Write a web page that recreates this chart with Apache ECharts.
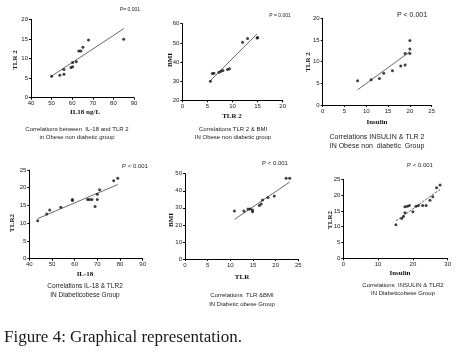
<!DOCTYPE html>
<html>
<head>
<meta charset="utf-8">
<script src="https://cdn.jsdelivr.net/npm/echarts@6/dist/echarts.min.js"></script>
<style>
body{margin:0;background:#fff;}
#chart{width:460px;height:356px;}
</style>
</head>
<body>
<div id="chart"></div>
<script>
// 1: IL-18 vs TLR2, obese non diabetic
var il18Ob = [50, 54, 56, 56, 59.4, 60.2, 60.2, 62, 63.2, 64.2, 65.2, 67.9, 85];
var tlr2Ob1 = [5.5, 5.7, 6.0, 7.2, 7.7, 7.9, 9.0, 9.2, 11.9, 11.9, 12.9, 14.7, 14.9];
var fit1 = [[50, 5.5], [85, 17.6]];
// 2: TLR2 vs BMI, obese non diabetic
var tlr2Ob2 = [5.6, 6.0, 6.3, 7.3, 7.7, 8.1, 9.0, 9.4, 12.0, 13.0, 14.9, 15];
var bmiOb = [30, 34, 34.1, 34.6, 35.2, 35.6, 36.1, 36.5, 50.3, 52.3, 52.5, 52.8];
var fit2 = [[5.5, 30], [14.9, 54.7]];
// 3: insulin vs TLR2, obese non diabetic
var insOb = [8.0, 11.1, 13.0, 14.0, 16.0, 17.9, 18.9, 18.9, 20, 20, 20];
var tlr2Ob3 = [5.6, 5.8, 6.1, 7.3, 7.9, 9.0, 9.2, 11.9, 11.9, 12.9, 14.9];
var fit3 = [[8, 3.5], [20, 12.3]];
// 4: IL-18 vs TLR2, diabetic obese
var il18Db = [43.7, 47.7, 49, 53.9, 59, 59, 65.7, 66.5, 67.6, 69, 70, 70, 71, 77.2, 79];
var tlr2Db4 = [10.7, 12.6, 13.7, 14.5, 16.4, 16.7, 16.7, 16.7, 16.7, 14.7, 16.7, 18.2, 19.4, 22, 22.7];
var fit4 = [[43.7, 11.3], [79, 20.9]];
// 5: TLR vs BMI, diabetic obese
var tlrDb = [10.9, 13, 13.9, 14.4, 14.9, 14.9, 16.4, 16.8, 17.1, 18.3, 19.7, 22.3, 23.1];
var bmiDb = [28.1, 28.1, 29.3, 29.3, 28.7, 27.7, 31.3, 32.2, 34.6, 36.1, 36.9, 47.3, 47.3];
var fit5 = [[10.9, 23.2], [23.1, 45.1]];
// 6: insulin vs TLR2, diabetic obese
var insDb = [15.1, 16.8, 17.3, 17.7, 17.7, 18.4, 19, 20, 20.9, 21.6, 22.8, 23.8, 24.9, 25.7, 26.8, 27.8];
var tlr2Db6 = [10.6, 12.6, 13.2, 14.4, 16.3, 16.5, 16.7, 14.7, 16.5, 16.7, 16.7, 16.7, 18.4, 19.5, 22.3, 23.2];
var fit6 = [[15.1, 11.8], [27.8, 21.8]];

var panels = [
  {x: il18Ob, y: tlr2Ob1, fit: fit1, xr: [40, 90, 10], yr: [0, 20, 5], grid: [31, 19.3, 103, 78.4]},
  {x: tlr2Ob2, y: bmiOb, fit: fit2, xr: [0, 20, 5], yr: [20, 60, 10], grid: [182.3, 23.7, 100.4, 76.6]},
  {x: insOb, y: tlr2Ob3, fit: fit3, xr: [0, 25, 5], yr: [0, 20, 5], grid: [322.7, 18.3, 109, 86.7]},
  {x: il18Db, y: tlr2Db4, fit: fit4, xr: [40, 90, 10], yr: [0, 25, 5], grid: [29.3, 170, 113.4, 88.7]},
  {x: tlrDb, y: bmiDb, fit: fit5, xr: [0, 25, 5], yr: [0, 50, 10], grid: [185, 173.7, 113.3, 85.3]},
  {x: insDb, y: tlr2Db6, fit: fit6, xr: [0, 30, 10], yr: [0, 25, 5], grid: [343.3, 179.3, 104.4, 79]}
];

// texts: [text, x, y, size]
var pTexts = [
  ['P= 0.001', 130, 10, 5], ['P = 0.001', 280, 15.7, 5], ['P < 0.001', 412, 15, 7],
  ['P < 0.001', 135, 166.7, 6], ['P < 0.001', 275, 163.3, 6], ['P < 0.001', 420, 165, 6]
];
var xNames = [['IL18 ng/L', 85, 112], ['TLR 2', 232, 116], ['Insulin', 377, 121.7],
  ['IL-18', 85, 274], ['TLR', 242, 276.7], ['Insulin', 400, 273.3]];
var yNames = [['TLR 2', 15, 60], ['BMI', 170, 60], ['TLR 2', 308, 62],
  ['TLR2', 11.7, 223], ['BMI', 170.7, 220], ['TLR2', 330, 220]];
var captions = [
  ['Correlations between  IL-18 and TLR 2', 'in Obese non diabetic group', 77, 129, 137, 6],
  ['Correlations TLR 2 & BMI', 'IN Obese non diabetic group', 233, 129, 137, 6],
  ['Correlations INSULIN & TLR 2', 'IN Obese non  diabetic  Group', 377, 136.7, 145.7, 7],
  ['Correlations IL-18 & TLR2', 'IN Diabeticobese Group', 85, 286.7, 295, 6.5],
  ['Correlations  TLR &BMI', 'IN Diabetic obese Group', 242, 295.7, 304, 6],
  ['Correlations  INSULIN & TLR2', 'IN Diabeticobese Group', 403, 285, 293.3, 6]
];

var grids = [], xAxes = [], yAxes = [], series = [], graphics = [];
panels.forEach(function(p, i){
  grids.push({left: p.grid[0], top: p.grid[1], width: p.grid[2], height: p.grid[3], containLabel: false});
  var axisCommon = {
    gridIndex: i, type: 'value', splitLine: {show: false},
    axisLine: {show: true, onZero: false, lineStyle: {color: '#000', width: 1}},
    axisTick: {show: true, length: 2, lineStyle: {color: '#000'}},
    axisLabel: {fontSize: 6, color: '#222', margin: 3, fontFamily: 'Liberation Sans'}
  };
  xAxes.push(Object.assign({}, axisCommon, {min: p.xr[0], max: p.xr[1], interval: p.xr[2]}));
  yAxes.push(Object.assign({}, axisCommon, {min: p.yr[0], max: p.yr[1], interval: p.yr[2]}));
  var pts = [];
  for (var k = 0; k < p.x.length; k++) pts.push([p.x[k], p.y[k]]);
  // 回归线
  series.push({type: 'line', xAxisIndex: i, yAxisIndex: i, data: p.fit, symbol: 'none', z: 1,
    lineStyle: {color: '#6a6a6a', width: 1, type: i == 5 ? [3, 1] : 'solid'}, silent: true});
  series.push({type: 'scatter', xAxisIndex: i, yAxisIndex: i, data: pts, symbolSize: 3, z: 2,
    itemStyle: {color: '#111'}, silent: true});
});

pTexts.forEach(function(t){
  graphics.push({type: 'text', x: t[1], y: t[2], style: {text: t[0], fontSize: t[3], fill: '#222',
    fontFamily: 'Liberation Sans', align: 'center', verticalAlign: 'middle'}});
});
xNames.forEach(function(t){
  graphics.push({type: 'text', x: t[1], y: t[2], style: {text: t[0], fontSize: 7, fontWeight: 'bold', fill: '#111',
    fontFamily: 'Liberation Serif', align: 'center', verticalAlign: 'middle'}});
});
yNames.forEach(function(t){
  graphics.push({type: 'text', x: t[1], y: t[2], rotation: Math.PI / 2, style: {text: t[0], fontSize: 7, fontWeight: 'bold', fill: '#111',
    fontFamily: 'Liberation Serif', align: 'center', verticalAlign: 'middle'}});
});
captions.forEach(function(c){
  graphics.push({type: 'text', x: c[2], y: c[3], style: {text: c[0], fontSize: c[5], fill: '#222',
    fontFamily: 'Liberation Sans', align: 'center', verticalAlign: 'middle'}});
  graphics.push({type: 'text', x: c[2], y: c[4], style: {text: c[1], fontSize: c[5], fill: '#222',
    fontFamily: 'Liberation Sans', align: 'center', verticalAlign: 'middle'}});
});
// 图标题
graphics.push({type: 'text', x: 4, y: 338, style: {text: 'Figure 4: Graphical representation.', fontSize: 17,
  fill: '#1a1a1a', fontFamily: 'Liberation Serif', align: 'left', verticalAlign: 'middle'}});

var chart = echarts.init(document.getElementById('chart'), null, {renderer: 'canvas'});
chart.setOption({
  animation: false,
  backgroundColor: '#fff',
  grid: grids, xAxis: xAxes, yAxis: yAxes, series: series, graphic: graphics
});
</script>
</body>
</html>
